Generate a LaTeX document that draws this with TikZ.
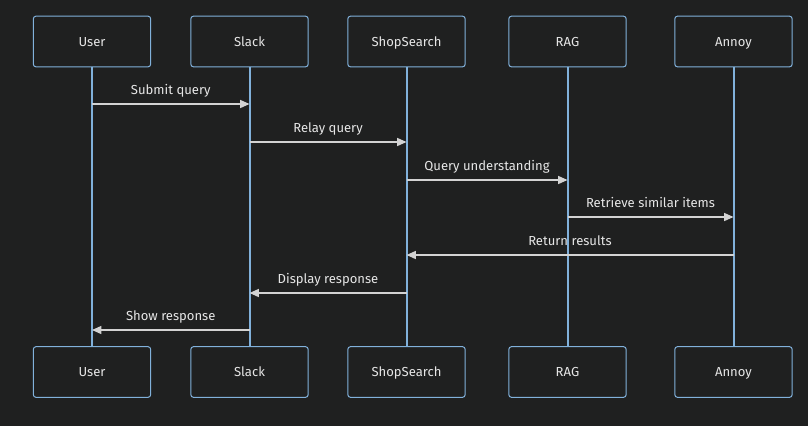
\documentclass[tikz,border=0pt]{standalone}
\usepackage{fontspec}
\setmainfont{Fira Sans}
\usetikzlibrary{arrows.meta}
\definecolor{bg}{HTML}{1F2020}
\definecolor{edge}{HTML}{81B1DB}
\definecolor{msg}{HTML}{D3D3D3}
\definecolor{txt}{HTML}{E6E6E6}
\tikzset{
  actor/.style={draw=edge, fill=bg, line width=0.75pt, rounded corners=2pt,
    minimum width=88pt, minimum height=38pt, inner sep=0pt,
    text height=8pt, text depth=1pt,
    text=txt, font=\fontsize{9.8}{11}\selectfont},
  life/.style={draw=edge, line width=1.5pt},
  msgline/.style={draw=msg, line width=1pt, -{Triangle[length=7pt,width=6pt]}},
  msglabel/.style={text=txt, font=\fontsize{9.8}{11}\selectfont, inner sep=0pt,
    text height=8pt, text depth=1pt}
}
\begin{document}
\begin{tikzpicture}[x=0.75pt,y=-0.75pt]
\fill[bg] (0,0) rectangle (808,426);
\useasboundingbox (0,0) rectangle (808,426);
% top actors
\node[actor] (ut) at (92,41.5) {User};
\node[actor] (st) at (249.5,41.5) {Slack};
\node[actor] (sst) at (406.5,41.5) {ShopSearch};
\node[actor] (rt) at (567.5,41.5) {RAG};
\node[actor] (at) at (733.5,41.5) {Annoy};
% bottom actors
\node[actor] (ub) at (92,372) {User};
\node[actor] (sb) at (249.5,372) {Slack};
\node[actor] (ssb) at (406.5,372) {ShopSearch};
\node[actor] (rb) at (567.5,372) {RAG};
\node[actor] (ab) at (733.5,372) {Annoy};
% lifelines
\draw[life] (ut.south) -- (ub.north);
\draw[life] (st.south) -- (sb.north);
\draw[life] (sst.south) -- (ssb.north);
\draw[life] (rt.south) -- (rb.north);
\draw[life] (at.south) -- (ab.north);
% message anchors
\coordinate (u1) at (92,104);  \coordinate (s1) at (249.5,104);
\coordinate (s2) at (249.5,142); \coordinate (ss2) at (406.5,142);
\coordinate (ss3) at (406.5,180); \coordinate (r3) at (567.5,180);
\coordinate (r4) at (567.5,217); \coordinate (a4) at (733.5,217);
\coordinate (a5) at (733.5,255); \coordinate (ss5) at (406.5,255);
\coordinate (ss6) at (406.5,293); \coordinate (s6) at (249.5,293);
\coordinate (s7) at (249.5,330); \coordinate (u7) at (92,330);
% messages
\draw[msgline] (u1) -- (s1) node[msglabel, midway, above=6pt] (m1) {Submit query};
\draw[msgline] (s2) -- (ss2) node[msglabel, midway, above=6pt] (m2) {Relay query};
\draw[msgline] (ss3) -- (r3) node[msglabel, midway, above=6pt] (m3) {Query understanding};
\draw[msgline] (r4) -- (a4) node[msglabel, midway, above=6pt] (m4) {Retrieve similar items};
\draw[msgline] (a5) -- (ss5) node[msglabel, midway, above=6pt] (m5) {Return results};
\draw[msgline] (ss6) -- (s6) node[msglabel, midway, above=6pt] (m6) {Display response};
\draw[msgline] (s7) -- (u7) node[msglabel, midway, above=6pt] (m7) {Show response};
\end{tikzpicture}
\end{document}
